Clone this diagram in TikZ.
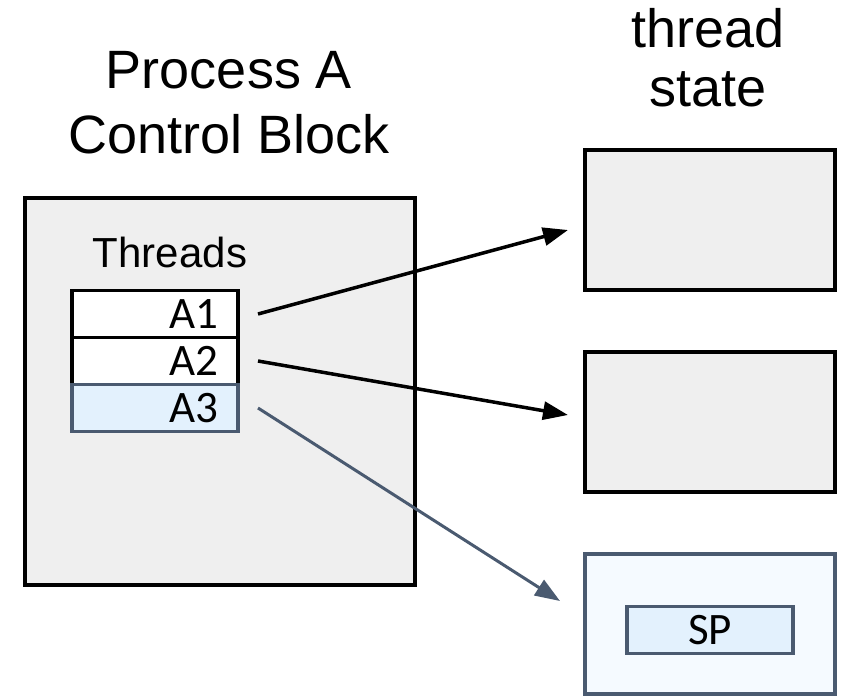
\documentclass[tikz,border=0pt]{standalone}
\usepackage{fontspec}
\setmainfont{Liberation Sans}
\newfontfamily\slotfont{Carlito}
\usepackage{xcolor}
\usepackage{tikz}
\usetikzlibrary{positioning, arrows.meta}

\definecolor{pcbgray}{HTML}{EFEFEF}
\definecolor{slate}{HTML}{4A5A70}
\definecolor{paleblue}{HTML}{E3F1FD}
\definecolor{iceblue}{HTML}{F5FAFF}

\begin{document}
\begin{tikzpicture}[
    x=1pt, y=-1pt,
    box/.style={rectangle, draw, line width=3.5pt, fill=pcbgray, inner sep=0pt, outer sep=0pt},
    slot/.style={rectangle, draw, line width=3.5pt, fill=white, minimum height=47pt, text width=126pt, inner xsep=20pt, inner ysep=0pt, outer sep=0pt, align=right, font=\slotfont\fontsize{45}{48}\selectfont},
    title/.style={align=center},
    arrow/.style={-{Triangle[length=25pt,width=18pt]}, line width=3.5pt}
]
    \useasboundingbox (0,0) rectangle (846,696);

    % Headings
    \node (pcbtitle) [title, font=\fontsize{54}{65}\selectfont] at (229,103) {Process A\\Control Block};
    \node (tstitle)  [title, font=\fontsize{54}{59}\selectfont] at (708,58) {thread\\state};

    % Process control block with its thread list
    \node (pcb) [box, minimum width=390pt, minimum height=387pt] at (220,391.5) {};
    \node (threads) [anchor=base, font=\fontsize{42}{48}\selectfont] at (170,267) {Threads};
    \node (a1) [slot] at (155,314) {A1};
    \node (a2) [slot, below=0pt of a1] {A2};
    \node (a3) [slot, draw=slate, fill=paleblue, below=0pt of a2] {A3};

    % Thread state blocks
    \node (ts1) [box, minimum width=250pt, minimum height=140pt] at (710,220) {};
    \node (ts2) [box, minimum width=250pt, minimum height=140pt, below=62pt of ts1] {};
    \node (ts3) [box, draw=slate, fill=iceblue, minimum width=250pt, minimum height=140pt, below=62pt of ts2] {};
    \node (sp) [slot, draw=slate, fill=paleblue, align=center] at ([yshift=-6pt]ts3.center) {SP};

    % Links from each thread to its state
    \draw [arrow] ([xshift=20pt]a1.east) -- ([xshift=-17pt,yshift=-10pt]ts1.west);
    \draw [arrow] ([xshift=20pt]a2.east) -- ([xshift=-17pt,yshift=7pt]ts2.west);
    \draw [arrow, slate, line width=3pt] ([xshift=20pt]a3.east) -- ([xshift=-25pt,yshift=23pt]ts3.west);

\end{tikzpicture}
\end{document}
